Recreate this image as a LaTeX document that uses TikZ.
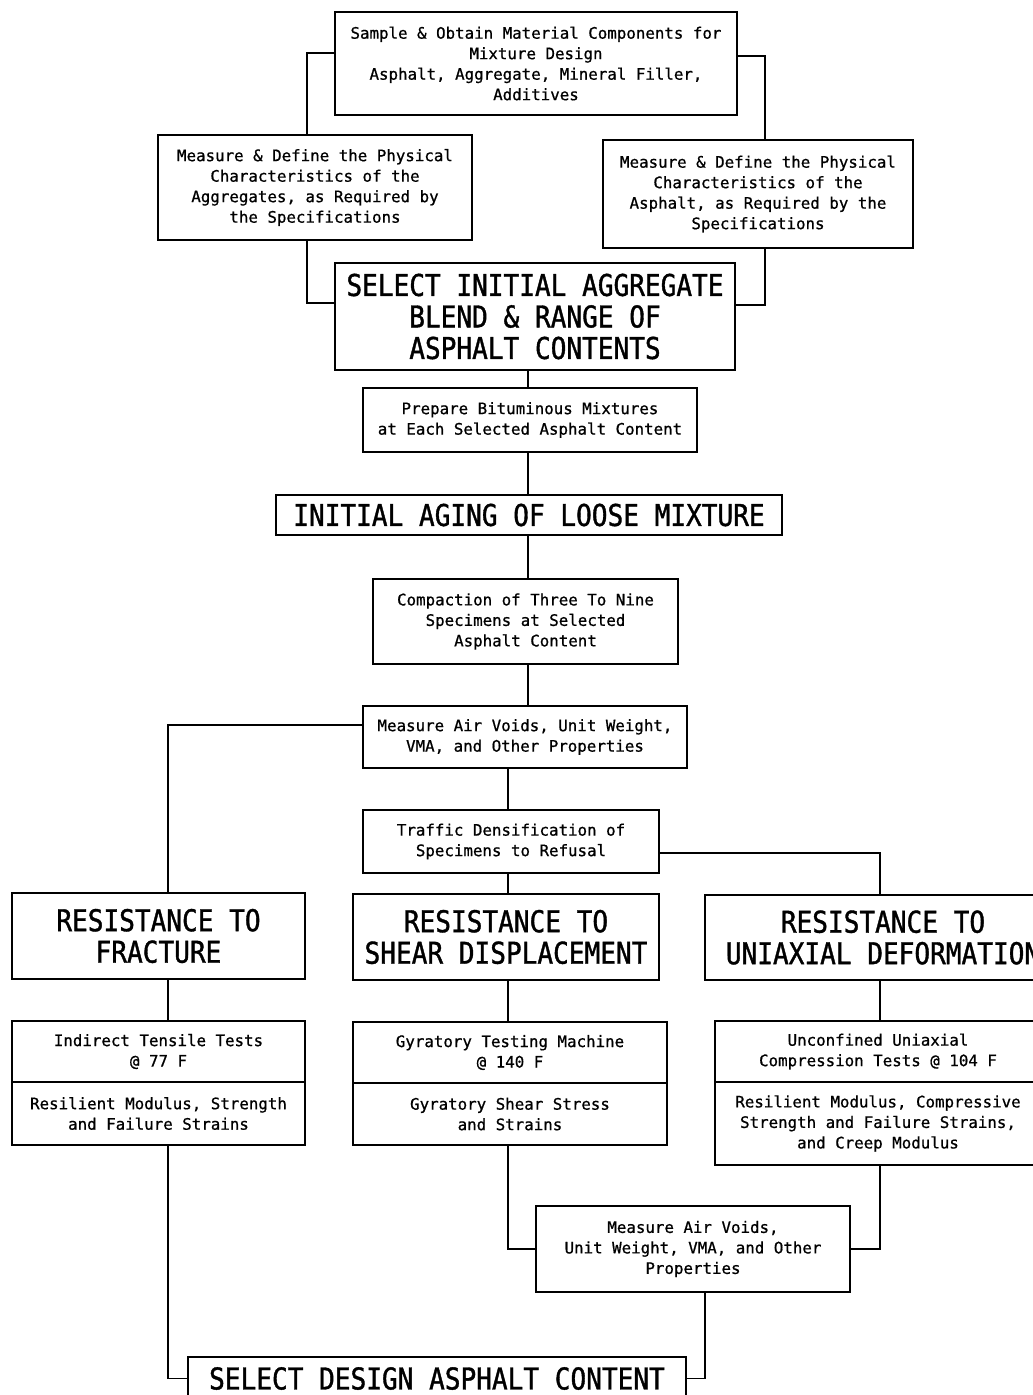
\documentclass[tikz,border=0pt]{standalone}
\usepackage{fontspec}
\newfontfamily\flowfont[FakeBold=0.8]{DejaVu Sans Mono}
\newfontfamily\headfont[FakeStretch=0.87, FakeBold=1.2]{DejaVu Sans Mono}
\begin{document}
\begin{tikzpicture}[x=1pt, y=-1pt, line width=1.3pt,
	blk/.style={draw, line width=1.8pt, inner sep=0pt, align=center, font=\flowfont\fontsize{15.8}{20.5}\selectfont},
	head/.style={draw, line width=1.8pt, inner sep=0pt, align=center, font=\headfont\fontsize{30}{31.5}\selectfont}]
	\useasboundingbox (0,0) rectangle (1033,1395);
	% spines of the connectors
	\coordinate (xa) at (307,0);
	\coordinate (xb) at (765,0);
	\coordinate (xm) at (528,0);
	\coordinate (xs) at (508,0);
	\coordinate (xl) at (168,0);
	\coordinate (xr) at (880,0);
	\coordinate (xd) at (705,0);
	% upper part
	\node[blk, minimum width=402pt, minimum height=103pt] (sample) at (536,63.5) {Sample \& Obtain Material Components for\\Mixture Design\\Asphalt, Aggregate, Mineral Filler,\\Additives};
	\node[blk, minimum width=314pt, minimum height=105pt] (aggr) at (315,187.5) {Measure \& Define the Physical\\Characteristics of the\\Aggregates, as Required by\\the Specifications};
	\node[blk, minimum width=310pt, minimum height=108pt] (asph) at (758,194) {Measure \& Define the Physical\\Characteristics of the\\Asphalt, as Required by the\\Specifications};
	\node[head, minimum width=400pt, minimum height=107pt] (blend) at (535,316.5) {SELECT INITIAL AGGREGATE\\BLEND \& RANGE OF\\ASPHALT CONTENTS};
	\node[blk, minimum width=334pt, minimum height=64pt] (prep) at (530,420) {Prepare Bituminous Mixtures\\at Each Selected Asphalt Content};
	\node[head, minimum width=506pt, minimum height=40pt] (aging) at (529,515) {INITIAL AGING OF LOOSE MIXTURE};
	\node[blk, minimum width=305pt, minimum height=85pt] (compact) at (525.5,621.5) {Compaction of Three To Nine\\Specimens at Selected\\Asphalt Content};
	\node[blk, minimum width=324pt, minimum height=62pt] (meas1) at (525,737) {Measure Air Voids, Unit Weight,\\VMA, and Other Properties};
	\node[blk, minimum width=296pt, minimum height=63pt] (traffic) at (511,841.5) {Traffic Densification of\\Specimens to Refusal};
	% three kinds of resistance
	\node[head, minimum width=293pt, minimum height=86pt] (frac) at (158.5,936) {RESISTANCE TO\\FRACTURE};
	\node[head, minimum width=306pt, minimum height=86pt] (shear) at (506,937) {RESISTANCE TO\\SHEAR DISPLACEMENT};
	\node[head, minimum width=356pt, minimum height=85pt] (uniax) at (883,937.5) {RESISTANCE TO\\UNIAXIAL DEFORMATION};
	% tests
	\node[blk, minimum width=293pt, minimum height=61pt] (itt) at (158.5,1051.5) {Indirect Tensile Tests\\@ 77 F};
	\node[blk, minimum width=293pt, minimum height=63pt] (ittres) at (158.5,1113.5) {Resilient Modulus, Strength\\and Failure Strains};
	\node[blk, minimum width=314pt, minimum height=61pt] (gtm) at (510,1052.5) {Gyratory Testing Machine\\@ 140 F};
	\node[blk, minimum width=314pt, minimum height=62pt] (gtmres) at (510,1114) {Gyratory Shear Stress\\and Strains};
	\node[blk, minimum width=326pt, minimum height=61pt] (uct) at (878,1051.5) {Unconfined Uniaxial\\Compression Tests @ 104 F};
	\node[blk, minimum width=326pt, minimum height=83pt] (uctres) at (878,1123.5) {Resilient Modulus, Compressive\\Strength and Failure Strains,\\and Creep Modulus};
	% lower part
	\node[blk, minimum width=314pt, minimum height=86pt] (meas2) at (693,1249) {Measure Air Voids,\\Unit Weight, VMA, and Other\\Properties};
	\node[head, minimum width=498pt, minimum height=43pt] (design) at (437,1378.5) {SELECT DESIGN ASPHALT CONTENT};
	% connectors
	\draw ([yshift=10.5pt]sample.west) -| (xa |- aggr.north);
	\draw ([yshift=7.5pt]sample.east) -| (xb |- asph.north);
	\draw (xa |- aggr.south) |- ([yshift=13.5pt]blend.west);
	\draw (xb |- asph.south) |- ([yshift=11.5pt]blend.east);
	\draw (xm |- blend.south) -- (xm |- prep.north);
	\draw (xm |- prep.south) -- (xm |- aging.north);
	\draw (xm |- aging.south) -- (xm |- compact.north);
	\draw (xm |- compact.south) -- (xm |- meas1.north);
	\draw ([yshift=12pt]meas1.west) -| (xl |- frac.north);
	\draw (xs |- meas1.south) -- (xs |- traffic.north);
	\draw (xs |- traffic.south) -- (xs |- shear.north);
	\draw ([yshift=-11.5pt]traffic.east) -| (xr |- uniax.north);
	\draw (xl |- frac.south) -- (xl |- itt.north);
	\draw (xs |- shear.south) -- (xs |- gtm.north);
	\draw (xr |- uniax.south) -- (xr |- uct.north);
	\draw (xs |- gtmres.south) |- (meas2.west);
	\draw (xr |- uctres.south) |- (meas2.east);
	\draw (xl |- ittres.south) |- (design.west);
	\draw (xd |- meas2.south) |- (design.east);
\end{tikzpicture}
\end{document}
